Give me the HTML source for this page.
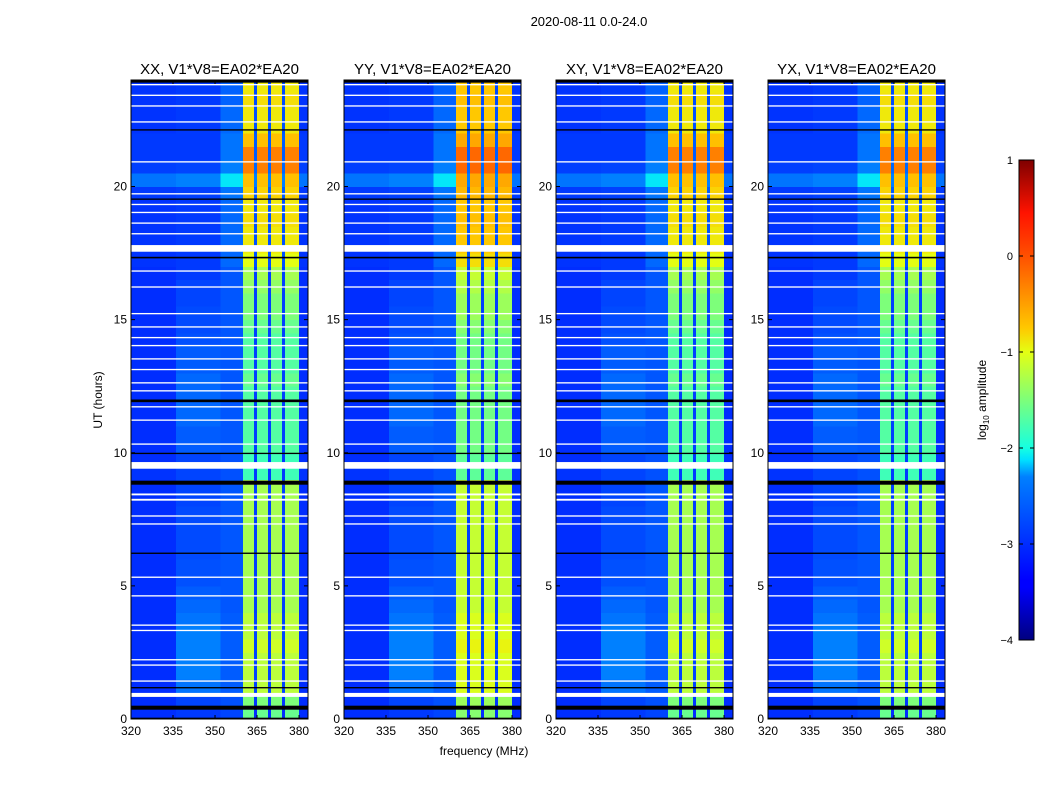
<!DOCTYPE html>
<html><head><meta charset="utf-8">
<style>
body{margin:0;background:#fff;font-family:"Liberation Sans",sans-serif;}
svg text{font-family:"Liberation Sans",sans-serif;}
</style></head>
<body>
<svg id="fig" width="1050" height="800" viewBox="0 0 1050 800" xmlns="http://www.w3.org/2000/svg">
<defs>
<linearGradient id="jet" x1="0" y1="1" x2="0" y2="0">
<stop offset="0" stop-color="#00007f"/><stop offset="0.11" stop-color="#0000ff"/>
<stop offset="0.125" stop-color="#0000ff"/><stop offset="0.34" stop-color="#0080ff"/>
<stop offset="0.375" stop-color="#00e0ff"/><stop offset="0.4" stop-color="#16ffe1"/>
<stop offset="0.5" stop-color="#7dff7a"/><stop offset="0.6" stop-color="#e4ff13"/>
<stop offset="0.65" stop-color="#ffc800"/><stop offset="0.8" stop-color="#ff5000"/>
<stop offset="0.89" stop-color="#ff1300"/><stop offset="1" stop-color="#7f0000"/>
</linearGradient>
</defs>
<text x="589" y="26" font-size="13" text-anchor="middle">2020-08-11 0.0-24.0</text>
<text x="102" y="400" font-size="12" text-anchor="middle" transform="rotate(-90 102 400)">UT (hours)</text>
<text x="484" y="755" font-size="12" text-anchor="middle">frequency (MHz)</text>
<g id="panels"></g>
<g>
<rect x="1019" y="160" width="15" height="480" fill="url(#jet)" stroke="#000" stroke-width="1"/>
<g id="cbticks"></g>
<text x="986" y="400" font-size="12" text-anchor="middle" transform="rotate(-90 986 400)">log<tspan font-size="8" dy="3">10</tspan><tspan dy="-3"> amplitude</tspan></text>
</g>
</svg>
<script>
// ---- data ----
const panelTitles = ["XX, V1*V8=EA02*EA20","YY, V1*V8=EA02*EA20","XY, V1*V8=EA02*EA20","YX, V1*V8=EA02*EA20"];
const panelGain = [0, 0.15, 0, 0];
const freqTicks = [320,335,350,365,380];
const timeTicks = [0,5,10,15,20];
const cbTicks = [1,0,-1,-2,-3,-4];
// column kinds per 1 MHz from 320 to 383
const colKinds = "qqqqqqqqqqqqqqqqhhhhhhhhhhhhhhhheeeeeeeebbbbnbbbbnbbbbnbbbbbqqqq";
// per half-hour levels (log10 amplitude), t = 0..23.5
const bandLevel = [-1.6,-1.5,-1.2,-1.2,-1.2,-1.1,-1.2,-1.2,-1.3,-1.3,-1.3,-1.3,-1.3,-1.3,-1.3,-1.3,-1.3,-1.3,-1.8,-1.8,-1.7,-1.7,-1.7,-1.7,-1.7,-1.6,-1.7,-1.7,-1.7,-1.6,-1.5,-1.5,-1.4,-1.3,-1.0,-0.9,-0.9,-0.85,-0.9,-0.8,-0.7,-0.3,-0.3,-0.7,-0.9,-0.9,-0.85,-0.9];
const bgLevel = [-3.0,-3.0,-3.0,-3.0,-3.0,-3.0,-3.0,-3.0,-3.0,-3.0,-3.0,-3.0,-3.0,-3.0,-3.0,-3.0,-3.0,-3.0,-2.95,-3.0,-3.0,-3.0,-3.0,-3.0,-3.0,-3.0,-3.0,-3.0,-3.0,-3.0,-3.0,-3.0,-3.0,-3.0,-2.95,-2.95,-2.95,-2.95,-2.95,-2.9,-2.4,-2.85,-2.9,-2.9,-2.95,-2.95,-2.95,-2.95];
const humpLevel = [-2.9,-2.8,-2.4,-2.3,-2.3,-2.3,-2.3,-2.4,-2.5,-2.6,-2.7,-2.7,-2.75,-2.75,-2.75,-2.75,-2.8,-2.8,-2.8,-2.8,-2.6,-2.6,-2.5,-2.5,-2.5,-2.5,-2.6,-2.6,-2.7,-2.75,-2.75,-2.8,-2.8,-2.9,-2.9,-2.9,-2.9,-2.9,-2.9,-2.85,-2.3,-2.8,-2.9,-2.9,-2.9,-2.9,-2.9,-2.9];
const edgeLevel = [-2.8,-2.7,-2.6,-2.6,-2.6,-2.6,-2.6,-2.6,-2.65,-2.65,-2.65,-2.65,-2.65,-2.65,-2.65,-2.65,-2.65,-2.65,-2.7,-2.7,-2.65,-2.65,-2.65,-2.65,-2.65,-2.65,-2.65,-2.65,-2.65,-2.65,-2.65,-2.65,-2.65,-2.65,-2.5,-2.5,-2.5,-2.5,-2.5,-2.4,-2.1,-2.3,-2.4,-2.4,-2.5,-2.5,-2.55,-2.55];
// flagged rows [start hour, end hour]
const whiteRows = [[0.83,0.98],[1.4,1.45],[2.0,2.05],[2.2,2.25],[3.3,3.35],[3.5,3.55],[4.6,4.65],[5.3,5.35],[7.3,7.35],[7.6,7.65],[8.2,8.27],[8.4,8.47],[9.4,9.65],[10.3,10.35],[11.2,11.25],[11.7,11.75],[12.3,12.35],[12.6,12.65],[13.1,13.15],[13.5,13.55],[14.0,14.05],[14.3,14.35],[14.7,14.75],[15.2,15.25],[16.2,16.25],[16.8,16.85],[17.55,17.8],[18.2,18.25],[18.6,18.65],[19.0,19.05],[19.3,19.35],[19.7,19.75],[20.9,20.95],[22.4,22.45],[23.0,23.05],[23.4,23.45],[23.8,23.85]];
const blackRows = [[0.35,0.5],[0.0,0.05],[1.15,1.2],[6.2,6.25],[8.8,8.95],[9.95,10.0],[11.9,12.0],[17.3,17.36],[19.5,19.55],[22.1,22.15],[23.9,24.0]];

// ---- helpers ----
const NS="http://www.w3.org/2000/svg";
const panelX=[131,344,556,768], PW=177, PT=80, PB=719;
const FMIN=320, FMAX=383.2, TMIN=0, TMAX=24;
function xs(p,f){return panelX[p]+(f-FMIN)/(FMAX-FMIN)*PW;}
function ys(t){return PB-(t-TMIN)/(TMAX-TMIN)*(PB-PT);}
const jetStops=[[0,0,0,127],[0.11,0,0,255],[0.125,0,0,255],[0.34,0,128,255],[0.375,0,224,255],[0.4,22,255,225],[0.5,125,255,122],[0.6,228,255,19],[0.65,255,200,0],[0.8,255,80,0],[0.89,255,19,0],[1,127,0,0]];
function jet(v){let u=(v+4)/5;u=Math.max(0,Math.min(1,u));
 for(let i=1;i<jetStops.length;i++){if(u<=jetStops[i][0]){const a=jetStops[i-1],b=jetStops[i];const k=(u-a[0])/(b[0]-a[0]||1);
 return `rgb(${Math.round(a[1]+k*(b[1]-a[1]))},${Math.round(a[2]+k*(b[2]-a[2]))},${Math.round(a[3]+k*(b[3]-a[3]))})`;}}return "rgb(127,0,0)";}
function el(tag,attrs,parent){const e=document.createElementNS(NS,tag);for(const k in attrs)e.setAttribute(k,attrs[k]);parent.appendChild(e);return e;}
function cellValue(kind,r,p){
 if(kind==='b')return bandLevel[r]+panelGain[p];
 if(kind==='n')return edgeLevel[r]-0.2;
 if(kind==='h')return humpLevel[r];
 if(kind==='e')return edgeLevel[r];
 return bgLevel[r];}

const root=document.getElementById('panels');
for(let p=0;p<4;p++){
 const g=el('g',{},root);
 
 
 const t=el('text',{x:panelX[p]+PW/2,y:74,'font-size':15,'text-anchor':'middle'},g);
 t.textContent=panelTitles[p];
 
 
 const cells=el('g',{'shape-rendering':'crispEdges'},g);
 
 
 for(let r=0;r<bandLevel.length;r++){
  const t0=r*0.5,t1=t0+0.5;
  for(let c=0;c<colKinds.length;c++){
   const f0=FMIN+c, f1=Math.min(f0+1,FMAX);
   const x0=xs(p,f0),x1=xs(p,f1);
   const rc=el('rect',{x:x0.toFixed(2),y:ys(t1).toFixed(2),width:(x1-x0+0.4).toFixed(2),height:(ys(t0)-ys(t1)+0.4).toFixed(2),fill:jet(cellValue(colKinds[c],r,p))},cells);
   
   
  }
 }
 for(const [a,b] of whiteRows){const rr=el('rect',{x:panelX[p],y:ys(b),width:PW,height:Math.max(1.2,ys(a)-ys(b)),fill:'#fff'},g);
  
  }
 for(const [a,b] of blackRows){const rr=el('rect',{x:panelX[p],y:ys(b),width:PW,height:Math.max(1.2,ys(a)-ys(b)),fill:'#000'},g);
  
  }
 const fr=el('rect',{x:panelX[p],y:PT,width:PW,height:PB-PT,fill:'none',stroke:'#000','stroke-width':1},g);
 
 
 for(const f of freqTicks){const x=xs(p,f);
  el('line',{x1:x,x2:x,y1:PB,y2:PB-4,stroke:'#000'},g);el('line',{x1:x,x2:x,y1:PT,y2:PT+4,stroke:'#000'},g);
  const tx=el('text',{x:x,y:PB+16,'font-size':12,'text-anchor':'middle'},g);tx.textContent=f;
  
  }
 for(const tt of timeTicks){const y=ys(tt);
  el('line',{x1:panelX[p],x2:panelX[p]+4,y1:y,y2:y,stroke:'#000'},g);el('line',{x1:panelX[p]+PW,x2:panelX[p]+PW-4,y1:y,y2:y,stroke:'#000'},g);
  const ty=el('text',{x:panelX[p]-4,y:y+4,'font-size':12,'text-anchor':'end'},g);ty.textContent=tt;
  
  }
}
const cb=document.getElementById('cbticks');
for(const v of cbTicks){const y=640-(v+4)/5*480;
 el('line',{x1:1019,x2:1023,y1:y,y2:y,stroke:'#000'},cb);el('line',{x1:1034,x2:1030,y1:y,y2:y,stroke:'#000'},cb);
 const t=el('text',{x:1013,y:y+4,'font-size':11,'text-anchor':'end'},cb);t.textContent=v<0?'\u2212'+(-v):v;
 
 }
</script>
</body></html>
